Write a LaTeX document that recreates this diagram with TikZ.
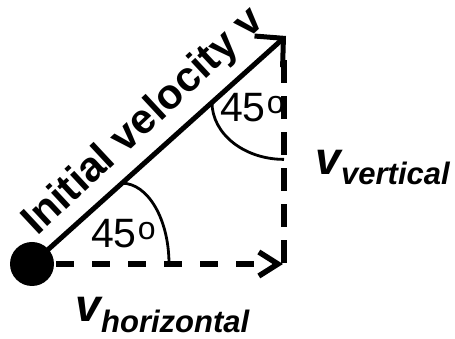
\documentclass[tikz,border=0pt]{standalone}
\usepackage{fontspec}
\setmainfont{Liberation Sans}
\usetikzlibrary{arrows.meta}
\begin{document}
\begin{tikzpicture}[x=1pt,y=1pt,
  solidvec/.style={line width=5pt,-{Straight Barb[length=20pt,width=42pt,line width=5pt]}},
  dashvec/.style={line width=5.5pt},
  anglearc/.style={line width=2.8pt},
  deg/.style={font=\fontsize{41}{41}\selectfont,inner sep=0pt,anchor=base west},
  vlab/.style={inner sep=0pt,anchor=base west,font=\fontsize{46}{46}\selectfont\bfseries\itshape},
  sublab/.style={inner sep=0pt,anchor=base west,font=\fontsize{31}{31}\selectfont\bfseries\itshape}]
\useasboundingbox (0,0) rectangle (455,339);
\node[circle,fill=black,minimum size=44pt,inner sep=0pt] (ball) at (32,75) {};
\coordinate (tip) at (286,303);
\coordinate (hend) at (283,75);
\coordinate (vbot) at (284,76);
\coordinate (vtop) at (284,291);
% horizontal and vertical components
\draw[dashvec,dash pattern=on 18pt off 18pt,dash phase=-2pt,-{Straight Barb[length=19pt,width=24pt,line width=5.5pt]}] (ball.east) -- (hend);
\draw[dashvec,dash pattern=on 23pt off 13pt] (vbot) -- (vtop);
% initial velocity
\draw[solidvec] (ball.center) -- (tip);
% angle arcs
\coordinate (a1) at (122,155.8);
\draw[anglearc] (a1) arc[start angle=90,end angle=0,x radius=47,y radius=80.8];
\coordinate (a2) at (212,236.6);
\draw[anglearc] (a2) arc[start angle=180,end angle=270,x radius=72,y radius=57];
% labels
\node[inner sep=0pt,anchor=base west,rotate=43,font=\fontsize{42}{42}\selectfont\bfseries] (lab) at (37,102) {Initial velocity v};
\node[deg] (d1) at (91,91) {45\kern1pt\raisebox{8pt}{\fontsize{32}{32}\selectfont o}};
\node[deg] (d2) at (220,217) {45\kern1pt\raisebox{8pt}{\fontsize{32}{32}\selectfont o}};
\node[vlab] (vv) at (315,164) {v};
\node[sublab] (vvs) at (vv.base east) [yshift=-10pt] {vertical};
\node[vlab] (vh) at (75,17) {v};
\node[sublab] (vhs) at (vh.base east) [yshift=-11pt] {horizontal};
\end{tikzpicture}
\end{document}
